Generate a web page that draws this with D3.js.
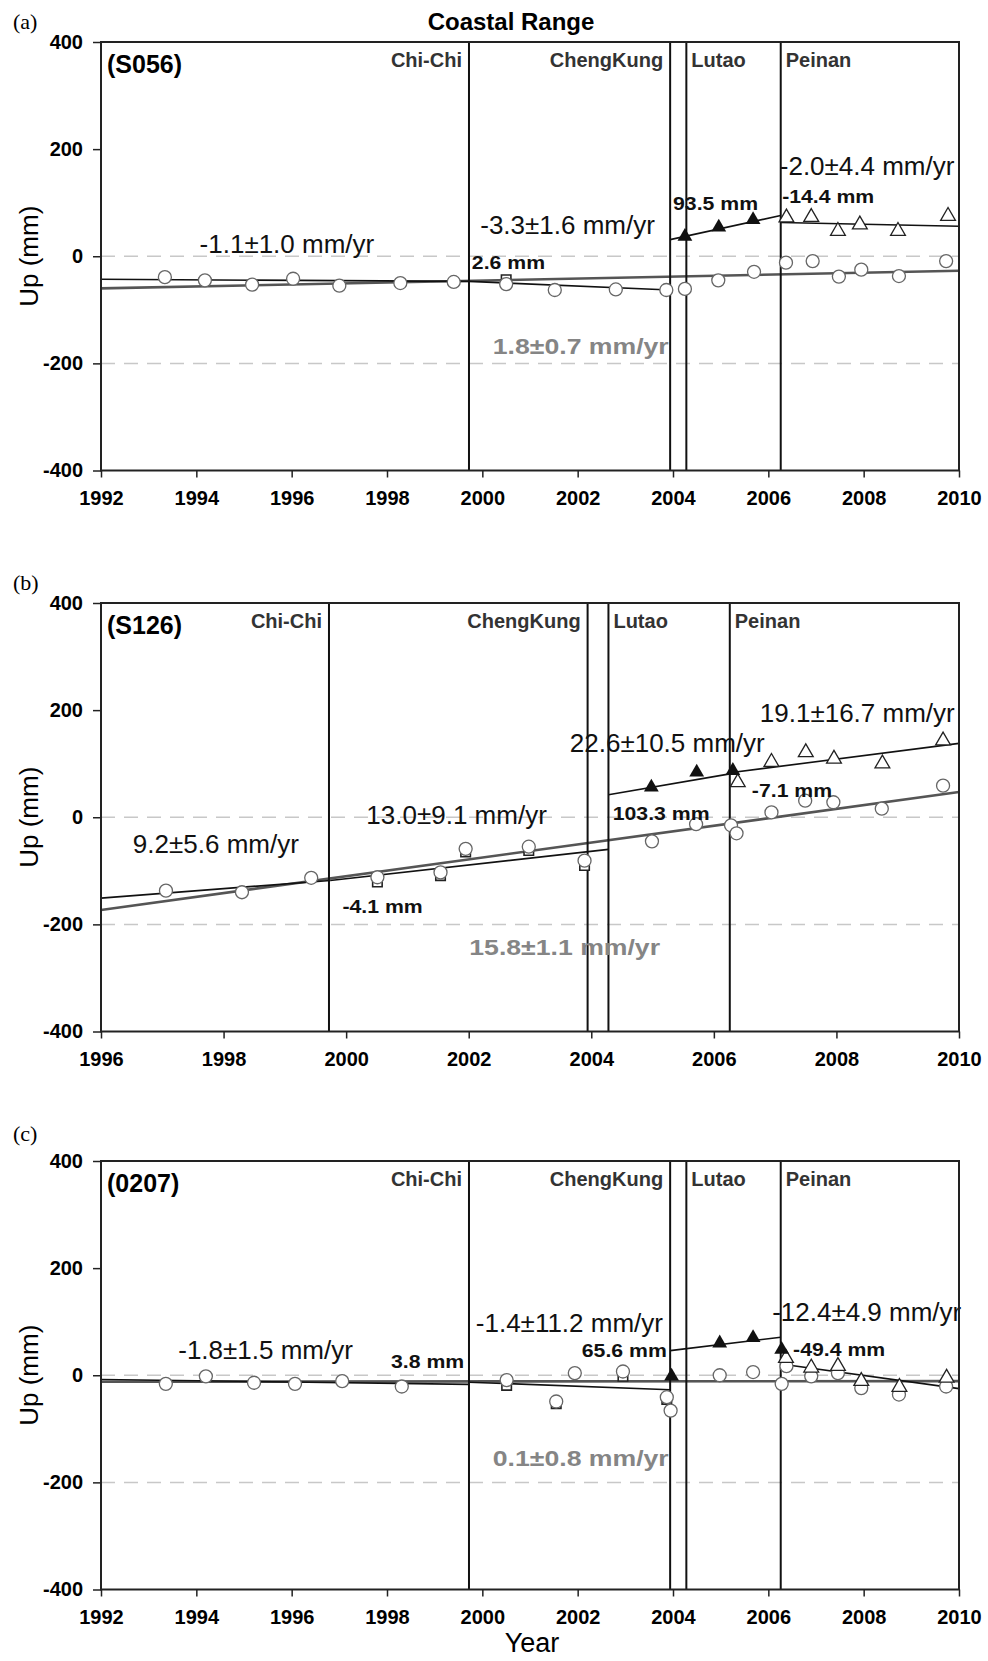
<!DOCTYPE html>
<html>
<head>
<meta charset="utf-8">
<script src="https://cdn.jsdelivr.net/npm/d3@7"></script>
<style>
  body { margin: 0; background: #fff; }
  svg text { font-family: "Liberation Sans", Arial, sans-serif; }
</style>
</head>
<body>
<svg id="chart" width="988" height="1661"></svg>
<script>
// earthquake epochs (decimal year) and names
const eventYears = [1999.72, 2003.94, 2004.28, 2006.26];
const eventNames = ["Chi-Chi", "ChengKung", "Lutao", "Peinan"];
const yTicks = [-400, -200, 0, 200, 400];
const gridLevels = [0, -200];
const yearsLong = [1992, 1994, 1996, 1998, 2000, 2002, 2004, 2006, 2008, 2010];
const yearsShort = [1996, 1998, 2000, 2002, 2004, 2006, 2008, 2010];

// (a) S056  [year, up mm]
const s056Circles = [[1993.34,-39],[1994.18,-45],[1995.17,-53],[1996.03,-42],[1997.0,-55],[1998.28,-50],[1999.4,-48],
  [2000.5,-52],[2001.52,-63],[2002.8,-62],[2003.86,-63],[2004.25,-61],[2004.95,-45],[2005.7,-29],[2006.37,-12],
  [2006.93,-9],[2007.48,-38],[2007.95,-25],[2008.74,-37],[2009.73,-9]];
const s056Squares = [[2000.5,-44]];
const s056Solid = [[2004.25,37],[2004.96,54],[2005.68,68]];
const s056Open = [[2006.38,72],[2006.9,73],[2007.46,47],[2007.92,59],[2008.72,47],[2009.77,75]];
const s056Fits = [[[1992,-43],[1999.72,-47]], [[1999.72,-47],[2003.94,-63]], [[2003.94,31],[2006.26,76]], [[2006.26,63],[2010,56]]];
const s056Trend = [[1992,-60],[2010,-27]];
const s056Rates = ["-1.1±1.0 mm/yr", "-3.3±1.6 mm/yr", "-2.0±4.4 mm/yr"];
const s056Steps = ["2.6 mm", "93.5 mm", "-14.4 mm"];
const s056TrendRate = "1.8±0.7 mm/yr";

// (b) S126
const s126Circles = [[1997.06,-137],[1998.3,-140],[1999.43,-113],[2000.51,-112],[2001.54,-103],[2001.95,-59],[2002.98,-55],
  [2003.89,-81],[2004.99,-45],[2005.71,-13],[2006.28,-15],[2006.37,-30],[2006.94,9],[2007.49,31],[2007.95,28],
  [2008.74,16],[2009.74,59]];
const s126Squares = [[2000.51,-121],[2001.54,-109],[2001.95,-65],[2002.98,-62],[2003.89,-90]];
const s126Solid = [[2004.98,56],[2005.72,84],[2006.31,87]];
const s126Open = [[2006.39,65],[2006.94,103],[2007.5,121],[2007.96,109],[2008.75,100],[2009.74,143]];
const s126Fits = [[[1996,-151],[1999.74,-118]], [[1999.74,-118],[2004.28,-60]], [[2004.28,42],[2006.26,81]], [[2006.26,83],[2010,138]]];
const s126Trend = [[1996,-173],[2010,47]];
const s126Rates = ["9.2±5.6 mm/yr", "13.0±9.1 mm/yr", "22.6±10.5 mm/yr", "19.1±16.7 mm/yr"];
const s126Steps = ["-4.1 mm", "103.3 mm", "-7.1 mm"];
const s126TrendRate = "15.8±1.1 mm/yr";

// (c) 0207
const st0207Circles = [[1993.36,-16],[1994.2,-2],[1995.21,-14],[1996.07,-16],[1997.06,-11],[1998.31,-21],[2000.51,-9],
  [2001.55,-49],[2001.94,4],[2002.95,7],[2003.87,-41],[2003.95,-66],[2004.98,0],[2005.68,6],[2006.28,-16],
  [2006.38,17],[2006.9,-2],[2007.46,4],[2007.95,-24],[2008.74,-36],[2009.73,-21]];
const st0207Squares = [[2000.51,-19],[2001.55,-53],[2002.95,-2],[2003.87,-45]];
const st0207Solid = [[2003.97,-2],[2004.98,60],[2005.68,70],[2006.28,48]];
const st0207Open = [[2006.37,32],[2006.9,14],[2007.46,17],[2007.95,-11],[2008.75,-22],[2009.74,-5]];
const st0207Fits = [[[1992,-8],[1999.72,-17]], [[1999.72,-13],[2003.94,-27]], [[2003.94,46],[2006.26,71]], [[2006.26,21],[2010,-25]]];
const st0207Trend = [[1992,-12],[2010,-11]];
const st0207Rates = ["-1.8±1.5 mm/yr", "-1.4±11.2 mm/yr", "-12.4±4.9 mm/yr"];
const st0207Steps = ["3.8 mm", "65.6 mm", "-49.4 mm"];
const st0207TrendRate = "0.1±0.8 mm/yr";

const left = 101, right = 959, plotH = 428.5;

// label placement, in data units [year, mm, anchor]
const panels = [
  { tag: "(a)", tagY: 29, station: "(S056)", top: 42, domain: [1992, 2010], xticks: yearsLong,
    circles: s056Circles, squares: s056Squares, solid: s056Solid, open: s056Open, fits: s056Fits, trend: s056Trend,
    rates: s056Rates, ratePos: [[1995.9, 7, "middle"], [2003.62, 42, "end"], [2006.24, 152, "start"]],
    steps: s056Steps, stepPos: [[1999.78, -23, "start"], [2004.0, 87, "start"], [2006.29, 100, "start"]],
    trendRate: s056TrendRate, trendPos: [2000.22, -183] },
  { tag: "(b)", tagY: 590, station: "(S126)", top: 603, domain: [1996, 2010], xticks: yearsShort,
    circles: s126Circles, squares: s126Squares, solid: s126Solid, open: s126Open, fits: s126Fits, trend: s126Trend,
    rates: s126Rates, ratePos: [[1996.52, -66, "start"], [2000.33, -12, "start"], [2003.65, 121, "start"], [2006.75, 177, "start"]],
    steps: s126Steps, stepPos: [[1999.94, -179, "start"], [2004.35, -6, "start"], [2006.62, 37, "start"]],
    trendRate: s126TrendRate, trendPos: [2002.01, -258] },
  { tag: "(c)", tagY: 1141, station: "(0207)", top: 1161, domain: [1992, 2010], xticks: yearsLong,
    circles: st0207Circles, squares: st0207Squares, solid: st0207Solid, open: st0207Open, fits: st0207Fits, trend: st0207Trend,
    rates: st0207Rates, ratePos: [[1993.62, 30, "start"], [2003.79, 80, "end"], [2006.08, 101, "start"]],
    steps: st0207Steps, stepPos: [[1999.62, 13, "end"], [2003.87, 34, "end"], [2006.52, 36, "start"]],
    trendRate: st0207TrendRate, trendPos: [2000.22, -170] }
];

const svg = d3.select("#chart");

// stretch text horizontally to mimic the wide bold face of the original
function widen(sel, k) {
  sel.each(function () {
    const w = this.getComputedTextLength();
    d3.select(this).attr("textLength", w * k).attr("lengthAdjust", "spacingAndGlyphs");
  });
}

svg.append("text")
  .attr("x", 511).attr("y", 30)
  .attr("text-anchor", "middle")
  .attr("font-size", 24).attr("font-weight", "bold")
  .text("Coastal Range");

panels.forEach(p => {
  const x = d3.scaleLinear().domain(p.domain).range([left, right]);
  const y = d3.scaleLinear().domain([-400, 400]).range([p.top + plotH, p.top]);
  const g = svg.append("g");
  const line = d3.line().x(d => x(d[0])).y(d => y(d[1]));

  // dashed reference levels
  g.selectAll(".grid").data(gridLevels).enter().append("line")
    .attr("x1", left).attr("x2", right)
    .attr("y1", d => y(d)).attr("y2", d => y(d))
    .attr("stroke", "#c8c8c8").attr("stroke-width", 1.5)
    .attr("stroke-dasharray", "14,9");

  // long-term trend
  g.append("path").attr("d", line(p.trend))
    .attr("fill", "none").attr("stroke", "#555").attr("stroke-width", 2.6);

  // segment fits
  g.selectAll(".fit").data(p.fits).enter().append("path")
    .attr("d", d => line(d))
    .attr("fill", "none").attr("stroke", "#111").attr("stroke-width", 1.6);

  // earthquake lines
  g.selectAll(".eq").data(eventYears).enter().append("line")
    .attr("x1", d => x(d)).attr("x2", d => x(d))
    .attr("y1", p.top).attr("y2", p.top + plotH)
    .attr("stroke", "#111").attr("stroke-width", 2);

  g.selectAll(".eqlab").data(eventNames).enter().append("text")
    .attr("x", (d, i) => i < 2 ? x(eventYears[i]) - 7 : x(eventYears[i]) + 5)
    .attr("y", p.top + 25)
    .attr("text-anchor", (d, i) => i < 2 ? "end" : "start")
    .attr("font-size", 20).attr("font-weight", "bold").attr("fill", "#333")
    .text(d => d);

  // markers
  g.selectAll(".sq").data(p.squares).enter().append("path")
    .attr("d", d3.symbol(d3.symbolSquare, 90))
    .attr("transform", d => `translate(${x(d[0])},${y(d[1])})`)
    .attr("fill", "#fff").attr("stroke", "#222").attr("stroke-width", 1.6);

  g.selectAll(".ci").data(p.circles).enter().append("circle")
    .attr("cx", d => x(d[0])).attr("cy", d => y(d[1])).attr("r", 6.5)
    .attr("fill", "#fff").attr("stroke", "#666").attr("stroke-width", 1.3);

  g.selectAll(".ot").data(p.open).enter().append("path")
    .attr("d", d3.symbol(d3.symbolTriangle, 95))
    .attr("transform", d => `translate(${x(d[0])},${y(d[1])})`)
    .attr("fill", "#fff").attr("stroke", "#222").attr("stroke-width", 1.3);

  g.selectAll(".st").data(p.solid).enter().append("path")
    .attr("d", d3.symbol(d3.symbolTriangle, 95))
    .attr("transform", d => `translate(${x(d[0])},${y(d[1])})`)
    .attr("fill", "#111");

  // rate labels
  g.selectAll(".rate").data(p.rates).enter().append("text")
    .attr("x", (d, i) => x(p.ratePos[i][0]))
    .attr("y", (d, i) => y(p.ratePos[i][1]))
    .attr("text-anchor", (d, i) => p.ratePos[i][2])
    .attr("font-size", 26).attr("fill", "#111")
    .text(d => d);

  // coseismic offsets
  g.selectAll(".step").data(p.steps).enter().append("text")
    .attr("x", (d, i) => x(p.stepPos[i][0]))
    .attr("y", (d, i) => y(p.stepPos[i][1]))
    .attr("text-anchor", (d, i) => p.stepPos[i][2])
    .attr("font-size", 18).attr("font-weight", "bold").attr("fill", "#111")
    .text(d => d)
    .call(widen, 1.18);

  g.append("text")
    .attr("x", x(p.trendPos[0])).attr("y", y(p.trendPos[1]))
    .attr("font-size", 22).attr("font-weight", "bold").attr("fill", "#858585")
    .text(p.trendRate)
    .call(widen, 1.21);

  g.append("text")
    .attr("x", left + 6).attr("y", p.top + 31)
    .attr("font-size", 25).attr("font-weight", "bold")
    .text(p.station);

  // frame
  g.append("rect")
    .attr("x", left).attr("y", p.top).attr("width", right - left).attr("height", plotH)
    .attr("fill", "none").attr("stroke", "#222").attr("stroke-width", 2);

  // axes
  g.append("g")
    .attr("transform", `translate(${left},0)`)
    .call(d3.axisLeft(y).tickValues(yTicks).tickFormat(d => String(d)).tickSize(8).tickPadding(10))
    .attr("font-family", null).attr("font-size", 20).attr("font-weight", "bold")
    .call(a => a.select(".domain").remove())
    .call(a => a.selectAll("line").attr("stroke", "#222").attr("stroke-width", 1.5));

  g.append("g")
    .attr("transform", `translate(0,${p.top + plotH})`)
    .call(d3.axisBottom(x).tickValues(p.xticks).tickFormat(d => String(d)).tickSize(7).tickPadding(13))
    .attr("font-family", null).attr("font-size", 20).attr("font-weight", "bold")
    .call(a => a.select(".domain").remove())
    .call(a => a.selectAll("line").attr("stroke", "#222").attr("stroke-width", 1.5));

  // y title
  g.append("text")
    .attr("transform", `translate(38,${y(0)}) rotate(-90)`)
    .attr("text-anchor", "middle")
    .attr("font-size", 26)
    .text("Up (mm)");

  // panel tag
  svg.append("text")
    .attr("x", 13).attr("y", p.tagY)
    .style("font-family", "'Liberation Serif', 'Times New Roman', serif")
    .attr("font-size", 22)
    .text(p.tag);
});

svg.append("text")
  .attr("x", 532).attr("y", 1652)
  .attr("text-anchor", "middle")
  .attr("font-size", 27)
  .text("Year");
</script>
</body>
</html>
